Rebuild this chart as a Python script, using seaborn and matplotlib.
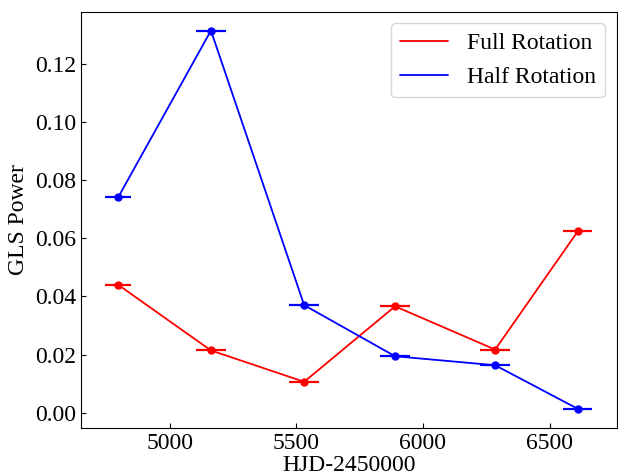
import numpy as np
import matplotlib
matplotlib.use("Agg")
import matplotlib.pyplot as plt
import pandas as pd
import seaborn as sns

# values
hjd = [4797, 5163, 5531, 5890, 6285, 6611]
half_width = [52, 58, 59, 60, 58, 58]
full_power = [0.0440, 0.0214, 0.0106, 0.0366, 0.0217, 0.0624]
half_power = [0.0742, 0.1316, 0.0370, 0.0194, 0.0163, 0.0013]

df = pd.DataFrame({"HJD": hjd, "Full Rotation": full_power, "Half Rotation": half_power})
long_df = df.melt(id_vars="HJD", var_name="kind", value_name="power")

sns.set_style("ticks", {"axes.edgecolor": "black", "text.color": "black",
                        "axes.labelcolor": "black", "xtick.color": "black",
                        "ytick.color": "black"})
plt.rcParams["font.family"] = ["Liberation Serif", "DejaVu Serif"]
plt.rcParams["xtick.direction"] = "in"
plt.rcParams["ytick.direction"] = "in"

fig = plt.figure(figsize=(6.18, 4.75), dpi=100)
ax = fig.add_axes([0.1306, 0.0996, 0.8674, 0.8758])

colors = {"Full Rotation": "red", "Half Rotation": "blue"}
sns.lineplot(data=long_df, x="HJD", y="power", hue="kind", palette=colors,
             linewidth=1.3, ax=ax)

# horizontal error bars with dots
for name, c in colors.items():
    ax.errorbar(df["HJD"], df[name], xerr=half_width, fmt="o", color=c,
                markersize=5, elinewidth=1.6, capsize=0)

ax.set_xlabel("HJD-2450000", fontsize=17, labelpad=1)
ax.set_ylabel("GLS Power", fontsize=17)
ax.tick_params(labelsize=17)
ax.set_xticks([5000, 5500, 6000, 6500])
ax.set_yticks(np.arange(0, 0.13, 0.02))
ax.yaxis.set_major_formatter(matplotlib.ticker.FormatStrFormatter("%.2f"))

leg = ax.legend(loc="upper right", fontsize=17)
for line in leg.get_lines():
    line.set_linewidth(1.3)

fig.savefig("out.png", dpi=100)
